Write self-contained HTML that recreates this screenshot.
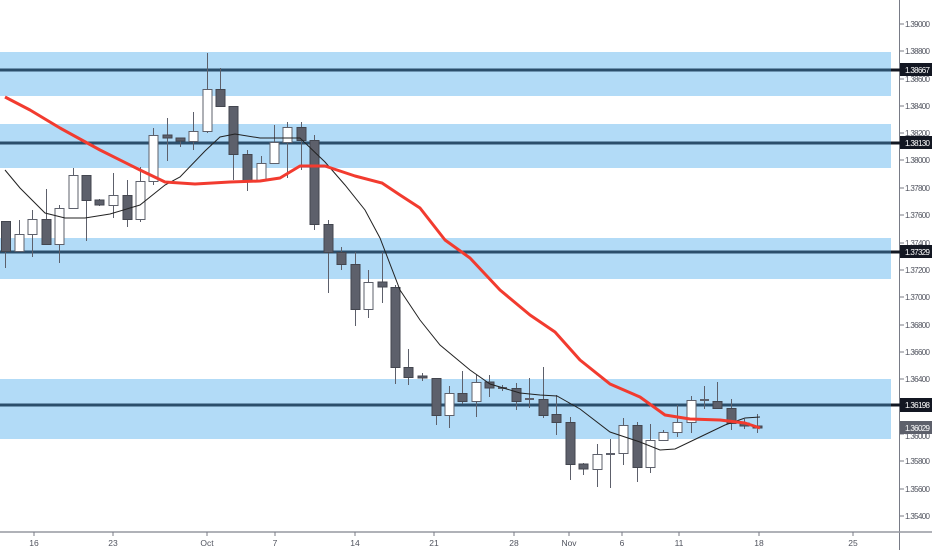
<!DOCTYPE html>
<html><head><meta charset="utf-8"><style>
html,body{margin:0;padding:0;background:#fff;}
svg{display:block;font-family:"Liberation Sans",sans-serif;}
</style></head><body>
<svg width="932" height="550" viewBox="0 0 932 550" xmlns="http://www.w3.org/2000/svg">
<rect width="932" height="550" fill="#fff"/>
<g fill="#b2dbf7">
<rect x="0" y="52" width="891" height="44"/>
<rect x="0" y="124" width="891" height="44"/>
<rect x="0" y="238" width="891" height="41"/>
<rect x="0" y="379" width="891" height="60"/>
</g>
<g stroke="#2b4e6b" stroke-width="3">
<line x1="0" y1="70" x2="891" y2="70"/>
<line x1="0" y1="143" x2="891" y2="143"/>
<line x1="0" y1="252" x2="891" y2="252"/>
<line x1="0" y1="405" x2="891" y2="405"/>
</g>
<g stroke="#5d606b" stroke-width="1">
<line x1="5.5" y1="221" x2="5.5" y2="268"/>
<line x1="19.5" y1="220" x2="19.5" y2="251"/>
<line x1="32.5" y1="210" x2="32.5" y2="257"/>
<line x1="46.5" y1="189" x2="46.5" y2="244"/>
<line x1="59.5" y1="205" x2="59.5" y2="263"/>
<line x1="73.5" y1="168" x2="73.5" y2="208"/>
<line x1="86.5" y1="175" x2="86.5" y2="241"/>
<line x1="99.5" y1="199" x2="99.5" y2="206"/>
<line x1="113.5" y1="173" x2="113.5" y2="218"/>
<line x1="127.5" y1="180" x2="127.5" y2="227"/>
<line x1="140.5" y1="167" x2="140.5" y2="222"/>
<line x1="153.5" y1="128" x2="153.5" y2="185"/>
<line x1="167.5" y1="118" x2="167.5" y2="161"/>
<line x1="180.5" y1="138" x2="180.5" y2="147"/>
<line x1="193.5" y1="112" x2="193.5" y2="150"/>
<line x1="207.5" y1="53" x2="207.5" y2="133"/>
<line x1="220.5" y1="68" x2="220.5" y2="106"/>
<line x1="233.5" y1="106" x2="233.5" y2="180"/>
<line x1="247.5" y1="150" x2="247.5" y2="191"/>
<line x1="261.5" y1="156" x2="261.5" y2="180"/>
<line x1="274.5" y1="125" x2="274.5" y2="163"/>
<line x1="287.5" y1="122" x2="287.5" y2="178"/>
<line x1="301.5" y1="122" x2="301.5" y2="170"/>
<line x1="314.5" y1="135" x2="314.5" y2="230"/>
<line x1="328.5" y1="220" x2="328.5" y2="293"/>
<line x1="341.5" y1="247" x2="341.5" y2="270"/>
<line x1="355.5" y1="252" x2="355.5" y2="326"/>
<line x1="368.5" y1="270" x2="368.5" y2="318"/>
<line x1="382.5" y1="252" x2="382.5" y2="303"/>
<line x1="395.5" y1="285" x2="395.5" y2="384"/>
<line x1="408.5" y1="349" x2="408.5" y2="385"/>
<line x1="422.5" y1="373" x2="422.5" y2="381"/>
<line x1="436.5" y1="378" x2="436.5" y2="425"/>
<line x1="449.5" y1="386" x2="449.5" y2="428"/>
<line x1="462.5" y1="371" x2="462.5" y2="404"/>
<line x1="476.5" y1="375" x2="476.5" y2="417"/>
<line x1="489.5" y1="375" x2="489.5" y2="397"/>
<line x1="502.5" y1="385" x2="502.5" y2="391"/>
<line x1="516.5" y1="383" x2="516.5" y2="410"/>
<line x1="529.5" y1="378" x2="529.5" y2="408"/>
<line x1="543.5" y1="367" x2="543.5" y2="418"/>
<line x1="556.5" y1="395" x2="556.5" y2="435"/>
<line x1="570.5" y1="417" x2="570.5" y2="480"/>
<line x1="583.5" y1="463" x2="583.5" y2="475"/>
<line x1="597.5" y1="444" x2="597.5" y2="487"/>
<line x1="610.5" y1="439" x2="610.5" y2="488"/>
<line x1="623.5" y1="418" x2="623.5" y2="465"/>
<line x1="637.5" y1="422" x2="637.5" y2="482"/>
<line x1="650.5" y1="424" x2="650.5" y2="473"/>
<line x1="663.5" y1="430" x2="663.5" y2="441"/>
<line x1="677.5" y1="405" x2="677.5" y2="437"/>
<line x1="691.5" y1="396" x2="691.5" y2="433"/>
<line x1="704.5" y1="386" x2="704.5" y2="409"/>
<line x1="717.5" y1="382" x2="717.5" y2="409"/>
<line x1="731.5" y1="399" x2="731.5" y2="430"/>
<line x1="744.5" y1="419" x2="744.5" y2="429"/>
<line x1="757.5" y1="414" x2="757.5" y2="433"/>
</g>
<g stroke="#43464f" stroke-width="1" fill="#5d606b">
<rect x="1.5" y="221.5" width="9" height="30"/>
<rect x="42" y="219.5" width="9" height="25"/>
<rect x="82" y="175.5" width="9" height="25"/>
<rect x="95" y="200" width="9" height="5"/>
<rect x="123" y="195.5" width="9" height="24"/>
<rect x="163" y="135" width="9" height="3"/>
<rect x="176" y="138" width="9" height="3"/>
<rect x="216" y="89.5" width="9" height="17"/>
<rect x="229" y="106.5" width="9" height="48"/>
<rect x="243" y="154.5" width="9" height="26"/>
<rect x="297" y="127.5" width="9" height="13"/>
<rect x="310" y="140.5" width="9" height="84"/>
<rect x="324" y="224.5" width="9" height="28"/>
<rect x="337" y="252.5" width="9" height="12"/>
<rect x="351" y="264.5" width="9" height="45"/>
<rect x="378" y="282" width="9" height="5"/>
<rect x="391" y="287.5" width="9" height="80"/>
<rect x="404" y="367.5" width="9" height="10"/>
<rect x="418" y="376" width="9" height="2"/>
<rect x="432" y="378.5" width="9" height="37"/>
<rect x="458" y="393.5" width="9" height="8"/>
<rect x="485" y="382" width="9" height="6"/>
<rect x="512" y="388.5" width="9" height="13"/>
<rect x="539" y="399.5" width="9" height="16"/>
<rect x="552" y="414.5" width="9" height="8"/>
<rect x="566" y="422.5" width="9" height="42"/>
<rect x="579" y="464" width="9" height="5"/>
<rect x="633" y="425.5" width="9" height="42"/>
<rect x="713" y="401.5" width="9" height="7"/>
<rect x="727" y="408.5" width="9" height="15"/>
<rect x="740" y="423" width="9" height="3"/>
<rect x="753" y="426" width="9" height="2"/>
</g>
<g stroke="#5d606b" stroke-width="1" fill="#fff">
<rect x="15" y="234.5" width="9" height="17"/>
<rect x="28" y="219.5" width="9" height="15"/>
<rect x="55" y="208.5" width="9" height="36"/>
<rect x="69" y="175.5" width="9" height="33"/>
<rect x="109" y="195.5" width="9" height="10"/>
<rect x="136" y="181.5" width="9" height="38"/>
<rect x="149" y="135.5" width="9" height="46"/>
<rect x="189" y="131.5" width="9" height="10"/>
<rect x="203" y="89.5" width="9" height="42"/>
<rect x="257" y="163.5" width="9" height="17"/>
<rect x="270" y="142.5" width="9" height="21"/>
<rect x="283" y="127.5" width="9" height="15"/>
<rect x="364" y="282.5" width="9" height="27"/>
<rect x="445" y="393.5" width="9" height="22"/>
<rect x="472" y="382.5" width="9" height="19"/>
<rect x="593" y="454.5" width="9" height="15"/>
<rect x="619" y="425.5" width="9" height="28"/>
<rect x="646" y="440.5" width="9" height="27"/>
<rect x="659" y="432.5" width="9" height="8"/>
<rect x="673" y="422.5" width="9" height="10"/>
<rect x="687" y="400.5" width="9" height="22"/>
</g>
<g stroke="#5d606b" stroke-width="2">
<line x1="498" y1="388" x2="507" y2="388"/>
<line x1="525" y1="399" x2="534" y2="399"/>
<line x1="606" y1="454" x2="615" y2="454"/>
<line x1="700" y1="400" x2="709" y2="400"/>
</g>
<polyline fill="none" stroke="#222" stroke-width="1" points="5,170 20,188 45,213 65,218 85,218 110,214 140,205 165,185 180,177 205,151 220,137 235,134 260,138 285,138 300,138 325,162 345,185 365,210 380,238 400,290 420,320 440,345 470,370 490,384 520,393 540,395 557,396 580,409 610,432 640,442 660,450 675,449 700,437 725,425 745,418 760,417"/>
<polyline fill="none" stroke="#f23b2f" stroke-width="3" stroke-linejoin="round" points="5,97 30,110 60,128 100,150 140,170 165,182 195,184 230,182 260,181 280,178 300,166 325,166 355,176 382,183 400,195 420,208 445,240 470,258 500,290 530,315 555,332 580,360 610,384 640,397 665,415 690,419 720,420 745,423 760,428"/>
<line x1="899.5" y1="0" x2="899.5" y2="550" stroke="#787b86" stroke-width="1"/>
<line x1="0" y1="532" x2="932" y2="532" stroke="#9598a1" stroke-width="1.5"/>
<g stroke="#787b86" stroke-width="1">
<line x1="900" y1="24" x2="904" y2="24"/><line x1="900" y1="51" x2="904" y2="51"/><line x1="900" y1="79" x2="904" y2="79"/><line x1="900" y1="106" x2="904" y2="106"/><line x1="900" y1="133" x2="904" y2="133"/><line x1="900" y1="160" x2="904" y2="160"/><line x1="900" y1="188" x2="904" y2="188"/><line x1="900" y1="215" x2="904" y2="215"/><line x1="900" y1="243" x2="904" y2="243"/><line x1="900" y1="270" x2="904" y2="270"/><line x1="900" y1="297" x2="904" y2="297"/><line x1="900" y1="325" x2="904" y2="325"/><line x1="900" y1="352" x2="904" y2="352"/><line x1="900" y1="379" x2="904" y2="379"/><line x1="900" y1="407" x2="904" y2="407"/><line x1="900" y1="434" x2="904" y2="434"/><line x1="900" y1="461" x2="904" y2="461"/><line x1="900" y1="489" x2="904" y2="489"/><line x1="900" y1="516" x2="904" y2="516"/>
<line x1="34" y1="532" x2="34" y2="536"/><line x1="113" y1="532" x2="113" y2="536"/><line x1="207" y1="532" x2="207" y2="536"/><line x1="275" y1="532" x2="275" y2="536"/><line x1="355" y1="532" x2="355" y2="536"/><line x1="434" y1="532" x2="434" y2="536"/><line x1="514" y1="532" x2="514" y2="536"/><line x1="569" y1="532" x2="569" y2="536"/><line x1="622" y1="532" x2="622" y2="536"/><line x1="679" y1="532" x2="679" y2="536"/><line x1="759" y1="532" x2="759" y2="536"/><line x1="853" y1="532" x2="853" y2="536"/>
</g>
<g font-size="8" fill="#50535e">
<text x="905" y="27" textLength="25">1.39000</text><text x="905" y="54" textLength="25">1.38800</text><text x="905" y="82" textLength="25">1.38600</text><text x="905" y="109" textLength="25">1.38400</text><text x="905" y="136" textLength="25">1.38200</text><text x="905" y="163" textLength="25">1.38000</text><text x="905" y="191" textLength="25">1.37800</text><text x="905" y="218" textLength="25">1.37600</text><text x="905" y="246" textLength="25">1.37400</text><text x="905" y="273" textLength="25">1.37200</text><text x="905" y="300" textLength="25">1.37000</text><text x="905" y="328" textLength="25">1.36800</text><text x="905" y="355" textLength="25">1.36600</text><text x="905" y="382" textLength="25">1.36400</text><text x="905" y="439" textLength="25">1.36000</text><text x="905" y="464" textLength="25">1.35800</text><text x="905" y="492" textLength="25">1.35600</text><text x="905" y="519" textLength="25">1.35400</text>
</g>
<g font-size="8.5" fill="#50535e" text-anchor="middle">
<text x="34" y="546">16</text><text x="113" y="546">23</text><text x="207" y="546">Oct</text><text x="275" y="546">7</text><text x="355" y="546">14</text><text x="434" y="546">21</text><text x="514" y="546">28</text><text x="569" y="546">Nov</text><text x="622" y="546">6</text><text x="679" y="546">11</text><text x="759" y="546">18</text><text x="853" y="546">25</text>
</g>
<g stroke="#131722" stroke-width="3">
<line x1="891" y1="70" x2="900" y2="70"/><line x1="891" y1="143" x2="900" y2="143"/><line x1="891" y1="252" x2="900" y2="252"/><line x1="891" y1="405" x2="900" y2="405"/>
</g>
<rect x="900" y="63" width="32" height="13" fill="#131722"/>
<rect x="900" y="136" width="32" height="13" fill="#131722"/>
<rect x="900" y="245" width="32" height="13" fill="#131722"/>
<rect x="900" y="398" width="32" height="14" fill="#131722"/>
<rect x="900" y="421" width="32" height="13" fill="#5d606b"/>
<g font-size="8" fill="#fff">
<text x="905" y="73" textLength="25">1.38667</text><text x="905" y="146" textLength="25">1.38130</text><text x="905" y="255" textLength="25">1.37329</text><text x="905" y="408" textLength="25">1.36198</text><text x="905" y="431" textLength="25">1.36029</text>
</g>
</svg>
</body></html>
